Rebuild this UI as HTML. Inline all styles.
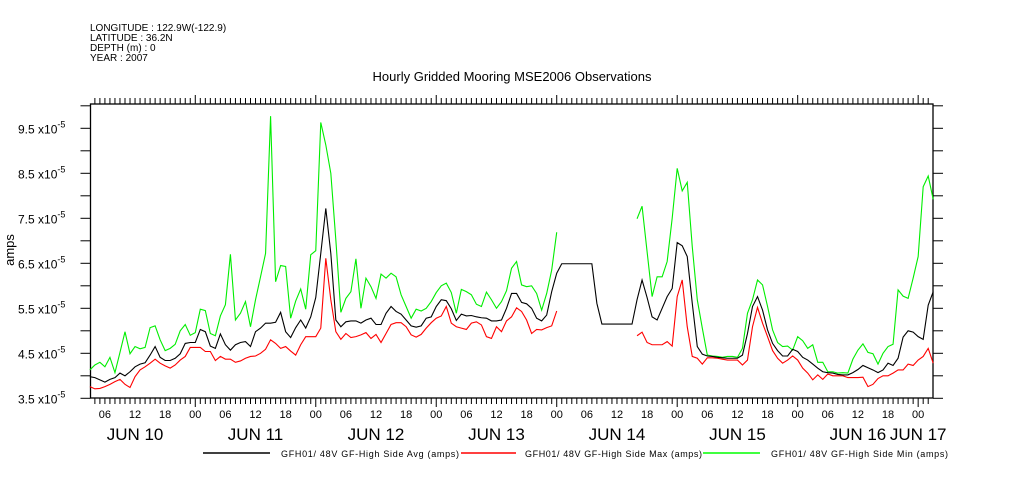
<!DOCTYPE html>
<html><head><meta charset="utf-8"><style>
body{margin:0;background:#fff;}
svg{display:block;font-family:"Liberation Sans",sans-serif;}
</style></head><body>
<svg id="chart" width="1009" height="504" xmlns="http://www.w3.org/2000/svg">
<rect width="1009" height="504" fill="#fff"/>
<g font-size="10" fill="#000">
<text x="90" y="31">LONGITUDE : 122.9W(-122.9)</text>
<text x="90" y="41">LATITUDE : 36.2N</text>
<text x="90" y="51">DEPTH (m) : 0</text>
<text x="90" y="61">YEAR : 2007</text>
</g>
<text x="512" y="81" text-anchor="middle" font-size="13">Hourly Gridded Mooring MSE2006 Observations</text>
<text transform="translate(14,250) rotate(-90)" text-anchor="middle" font-size="13">amps</text>
<g id="axes"></g>
<g id="series"></g>
<g font-size="9">
<line x1="203" y1="453" x2="270" y2="453" stroke="#000" stroke-width="1.5"/>
<text x="281" y="457" textLength="178">GFH01/ 48V GF-High Side Avg (amps)</text>
<line x1="461" y1="453" x2="516" y2="453" stroke="#f00" stroke-width="1.5"/>
<text x="525" y="457" textLength="177">GFH01/ 48V GF-High Side Max (amps)</text>
<line x1="703" y1="453" x2="760" y2="453" stroke="#0f0" stroke-width="1.5"/>
<text x="771" y="457" textLength="177">GFH01/ 48V GF-High Side Min (amps)</text>
</g>
</svg>
<script>
const startHour = 3;
const avgValues = [3.98,3.96,3.91,3.86,3.92,3.96,4.06,4.0,4.09,4.2,4.26,4.29,4.46,4.65,4.41,4.34,4.34,4.39,4.49,4.72,4.74,4.74,5.03,4.98,4.66,4.61,4.93,4.69,4.57,4.69,4.74,4.76,4.65,4.98,5.06,5.17,5.17,5.19,5.41,4.98,4.85,5.07,5.24,5.06,5.31,5.74,6.72,7.72,6.72,5.24,5.09,5.2,5.22,5.22,5.17,5.24,5.28,5.14,5.14,
5.39,5.54,5.43,5.37,5.24,5.11,5.08,5.11,5.28,5.31,5.54,5.69,5.67,5.49,5.23,5.37,5.33,5.34,5.31,5.29,5.28,5.22,5.22,5.24,5.5,5.83,5.83,5.63,5.6,5.5,5.28,5.22,5.35,5.87,6.28,
6.49,6.49,6.49,6.49,6.49,6.49,6.49,5.61,5.15,5.15,5.15,5.15,5.15,5.15,5.15,5.69,6.13,5.74,5.31,5.24,5.5,5.76,
5.94,6.96,6.89,6.65,5.61,4.65,4.48,4.44,4.43,4.41,4.4,4.39,4.39,4.39,4.46,4.94,5.54,5.76,5.46,5.02,4.72,4.56,4.44,4.44,4.59,4.54,4.41,4.35,4.26,4.17,4.09,4.07,4.06,4.03,4.02,4.02,4.07,4.14,4.23,4.18,4.13,4.07,4.13,4.28,4.23,4.39,4.86,5.0,4.97,4.87,4.81,5.57,5.87];
const maxValues = [3.76,3.71,3.72,3.76,3.81,3.87,3.92,3.81,3.74,3.98,4.13,4.2,4.28,4.37,4.28,4.22,4.17,4.24,4.35,4.43,4.63,4.63,4.63,4.54,4.54,4.34,4.43,4.37,4.37,4.3,4.33,4.39,4.43,4.44,4.5,4.59,4.8,4.72,4.61,4.65,4.55,4.46,4.69,4.87,4.87,4.87,5.06,6.61,5.69,4.98,4.81,4.94,4.85,4.87,4.91,4.96,4.83,
4.92,4.74,4.94,5.14,5.18,5.18,5.09,4.91,4.86,4.92,5.06,5.18,5.28,5.33,5.54,5.17,5.09,5.06,5.03,5.17,5.2,5.13,4.87,4.83,5.09,4.98,5.22,5.31,5.51,5.43,5.24,4.94,5.03,5.02,5.07,5.11,5.44,
null,null,null,null,null,null,null,null,null,null,null,null,null,null,null,
4.89,4.97,4.74,4.69,4.69,4.69,4.76,
4.66,5.76,6.13,5.09,4.43,4.39,4.26,4.4,4.4,4.39,4.37,4.35,4.35,4.35,4.24,4.35,5.09,5.52,5.17,4.87,4.56,4.39,4.28,4.35,4.44,4.35,4.17,4.06,3.91,4.02,3.92,4.04,4.0,4.0,4.0,3.96,3.96,3.96,3.97,3.76,3.81,3.94,4.0,4.0,4.06,4.13,4.13,4.26,4.23,4.35,4.43,4.61,4.28];
const minValues = [4.13,4.24,4.3,4.2,4.41,4.07,4.52,4.98,4.49,4.65,4.6,4.63,5.07,5.11,4.8,4.56,4.61,4.7,5.0,5.14,4.9,4.96,5.48,5.45,4.94,4.89,5.33,5.58,6.7,5.24,5.39,5.65,5.09,5.69,6.2,6.72,9.77,6.09,6.45,6.43,5.28,5.66,5.93,5.48,6.69,6.78,9.63,9.13,8.5,7.02,5.41,5.72,5.87,6.6,5.5,6.17,5.98,5.72,
6.26,6.17,6.28,6.2,5.8,5.54,5.28,5.48,5.44,5.5,5.65,5.85,6.0,6.06,5.85,5.39,5.92,5.87,5.8,5.59,5.54,5.86,5.69,5.5,5.65,5.89,6.39,6.54,6.02,5.98,6.0,5.83,5.46,5.83,6.35,7.19,
null,null,null,null,null,null,null,null,null,null,null,null,null,null,null,
7.49,7.77,6.76,5.76,6.2,6.2,6.54,
7.5,8.61,8.11,8.3,6.87,5.69,5.06,4.46,4.44,4.43,4.41,4.43,4.43,4.41,4.61,5.39,5.69,6.13,6.02,5.54,5.02,4.74,4.65,4.66,4.57,4.87,4.78,4.61,4.69,4.3,4.3,4.09,4.09,4.06,4.07,4.06,4.37,4.57,4.71,4.52,4.49,4.26,4.5,4.65,4.7,5.91,5.77,5.72,6.17,6.65,8.2,8.44,7.92];
const yTicks = [3.5,4.5,5.5,6.5,7.5,8.5,9.5];
const dayLabels = ["JUN 10","JUN 11","JUN 12","JUN 13","JUN 14","JUN 15","JUN 16","JUN 17"];
const hourLabels = ["00","06","12","18"];

const L=90.5,R=933,T=104,B=398;
function xOf(h){return 74.8+5.02*h;}
function yOf(v){return 398.3-(v-3.5)*45;}
const NS="http://www.w3.org/2000/svg";
const axes=document.getElementById('axes');
function mk(tag,attrs,parent){const e=document.createElementNS(NS,tag);for(const k in attrs)e.setAttribute(k,attrs[k]);parent.appendChild(e);return e;}
const frame=mk('rect',{x:L,y:T,width:R-L,height:B-T,fill:'none',stroke:'#000','stroke-width':1.3},axes);


for(let h=4;h<=171;h++){
  const x=xOf(h); if(x<L||x>R)continue;
  const major=h%24===0;
  const len=major?9:6;
  const t1=mk('line',{x1:x,y1:B,x2:x,y2:B+len,stroke:'#000','stroke-width':1},axes);
  
  
  const t2=mk('line',{x1:x,y1:T,x2:x,y2:T-len,stroke:'#000','stroke-width':1},axes);
  
  
  if(h%6===0){
    const tx=mk('text',{x:x,y:418,'text-anchor':'middle','font-size':11},axes);
    tx.textContent=hourLabels[(h%24)/6];
    
    
  }
}
for(let d=0;d<dayLabels.length;d++){
  const h=d===7?168:d*24+12;
  const tx=mk('text',{x:xOf(h),y:440,'text-anchor':'middle','font-size':17},axes);
  tx.textContent=dayLabels[d];
  
  
}
for(let v=3.5;v<=10.01;v+=0.5){
  const y=yOf(v); if(y<T)continue;
  const a=mk('line',{x1:L-10,y1:y,x2:L,y2:y,stroke:'#000','stroke-width':1},axes);
  
  
  const b=mk('line',{x1:R,y1:y,x2:R+10,y2:y,stroke:'#000','stroke-width':1},axes);
  
  
}
yTicks.forEach(v=>{
  const y=yOf(v);
  const tx=mk('text',{x:18,y:y+5,'font-size':12},axes);
  
  
  tx.appendChild(document.createTextNode(v.toFixed(1)+' x10'));
  const sp=mk('tspan',{dy:-6,'font-size':9},tx);
  sp.textContent='-5';
});
const sg=document.getElementById('series');
function drawSeries(vals,color,name){
  let d='',pen=false;
  vals.forEach((v,i)=>{
    if(v===null){pen=false;return;}
    d+=(pen?'L':'M')+xOf(startHour+i).toFixed(2)+' '+yOf(v).toFixed(2)+' ';
    pen=true;
  });
  const p=mk('path',{d:d,fill:'none',stroke:color,'stroke-width':1.1},sg);
  
  
}
drawSeries(minValues,'#00ee00','series-min-line');
drawSeries(maxValues,'#ff0000','series-max-line');
drawSeries(avgValues,'#000000','series-avg-line');
</script>
</body></html>
